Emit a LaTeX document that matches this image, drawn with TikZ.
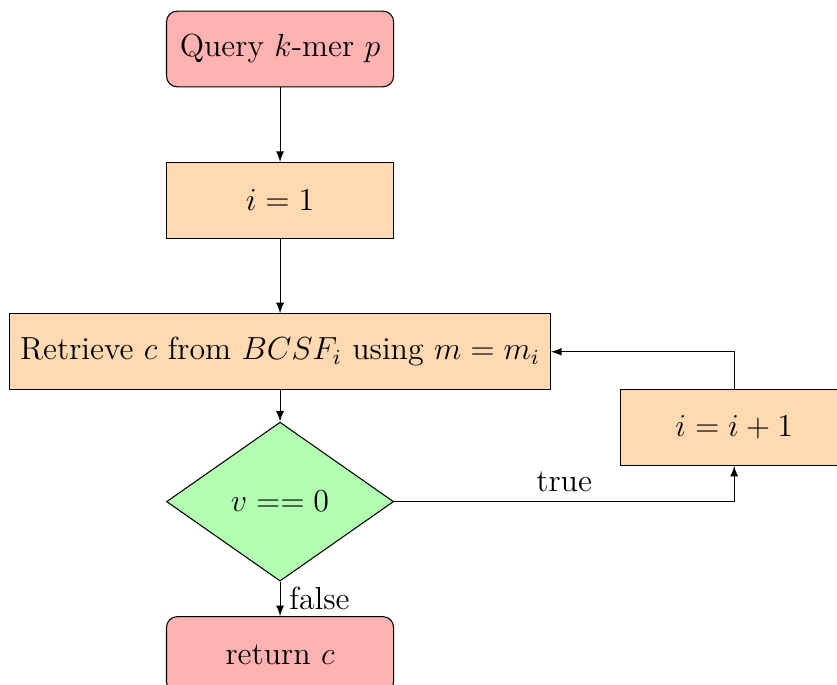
\documentclass[tikz,border=0pt]{standalone}
\usetikzlibrary{shapes.geometric}
\begin{document}
\begin{tikzpicture}[every node/.style={font=\large},
    startstop/.style={rectangle, rounded corners, minimum width=3cm, minimum height=1cm, text centered, draw=black, fill=red!30},
    process/.style={rectangle, minimum width=3cm, minimum height=1cm, text centered, draw=black, fill=orange!30},
    decision/.style={diamond, minimum width=3cm, minimum height=2.1cm, text centered, draw=black, fill=green!30},
    arrow/.style={->, >=latex}]
    \useasboundingbox (-3.70,0.647) rectangle (7.358,-8.40);

    % main column
    \node (start) [startstop] at (0,0) {Query $k$-mer $p$};
    \node (init) [process] at (0,-2) {$i = 1$};
    \node (retrieve) [process, inner xsep=0.4em] at (0,-4) {Retrieve $c$ from $BCSF_i$ using $m = m_i$};
    \node (dec) [decision] at (0,-5.98) {$v == 0$};
    \node (stop) [startstop] at (0,-8) {return $c$};

    % loop
    \node (inc) [process] at (6,-5) {$i = i + 1$};

    \draw [arrow] (start) -- (init);
    \draw [arrow] (init) -- (retrieve);
    \draw [arrow] (retrieve) -- (dec);
    \draw [arrow] (dec) -- node[anchor=west] {false} (stop);
    \draw [arrow] (dec.east) -| node[pos=0.25, above] {true} (inc.south);
    \draw [arrow] (inc.north) |- (retrieve.east);
\end{tikzpicture}
\end{document}
